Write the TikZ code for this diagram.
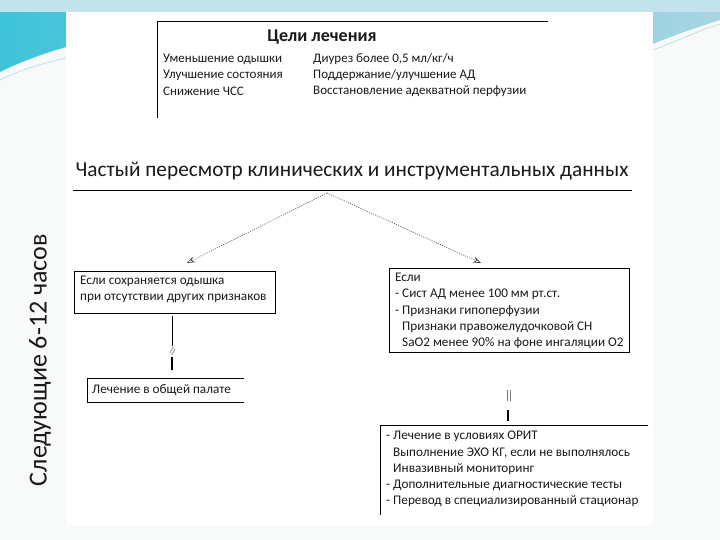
\documentclass[tikz,border=0pt]{standalone}
\usepackage{fontspec}
\setmainfont{Carlito}
\usetikzlibrary{arrows.meta}
\definecolor{slidebg}{HTML}{F8F9F9}
\definecolor{bandblue}{HTML}{A8D5E4}
\definecolor{cyanA}{HTML}{3FC3D9}
\definecolor{cyanB}{HTML}{5CB8D8}
\definecolor{txt}{HTML}{1A1A1A}
\tikzset{
  small/.style={font=\fontsize{13}{15}\selectfont, text=txt, inner sep=0pt, anchor=west},
  boxtext/.style={font=\fontsize{13.2}{16.3}\selectfont, text=txt, align=left, inner sep=0pt, anchor=north west},
  frame/.style={draw=black, line width=0.8pt},
  dotarrow/.style={draw=black!75, line width=0.6pt, dash pattern=on 1pt off 1.3pt, -{Stealth[open, length=8pt, width=6pt, line width=0.6pt]}},
  thin/.style={draw=black, line width=0.8pt},
  thick/.style={draw=black, line width=2pt},
  breakmark/.style={draw=black!55, line width=0.6pt}
}
\begin{document}
\begin{tikzpicture}[x=1pt,y=-1pt]
\useasboundingbox (0,0) rectangle (720,540);
\fill[slidebg] (0,0) rectangle (720,540);
% top decorative band
\shade[left color=cyanA, right color=bandblue] (0,0) -- (720,0) -- (720,20) .. controls (695,28) and (672,36) .. (653,44) -- (653,12) -- (66,12) -- (66,47) .. controls (42,54) and (20,62) .. (0,72) -- cycle;
\fill[bandblue!70] (0,0) rectangle (720,12);
\draw[white!60!cyanB, line width=0.8pt] (66,58) .. controls (40,64) and (20,70) .. (0,80);
\draw[white!50!cyanB, line width=0.6pt] (653,50) .. controls (680,40) and (700,30) .. (720,24);
% white panel
\fill[white] (66,12) rectangle (653,525);

% goals block
\coordinate (gTL) at (157,21);
\coordinate (gTR) at (548,21);
\coordinate (gBL) at (157,118);
\draw[frame] (gBL) -- (gTL) -- (gTR);
\node[font=\bfseries\fontsize{18}{20}\selectfont, text=txt, inner sep=0pt] (goals) at (322,37) {Цели лечения};
\node[small] (g1) at (163,59) {Уменьшение одышки};
\node[small] (g2) at (163,75) {Улучшение состояния};
\node[small] (g3) at (163,91) {Снижение ЧСС};
\node[small] (g4) at (313,59) {Диурез более 0,5 мл/кг/ч};
\node[small] (g5) at (313,75) {Поддержание/улучшение АД};
\node[small] (g6) at (313,91) {Восстановление адекватной перфузии};

% heading
\node[font=\fontsize{21.3}{24}\selectfont, text=txt, inner sep=0pt] (head) at (352,171) {Частый пересмотр клинических и инструментальных данных};
\coordinate (ulL) at (73,190);
\coordinate (ulR) at (632,190);
\draw[line width=0.8pt] (ulL) -- (ulR);
\coordinate (apex) at (327,193);
\coordinate (tipL) at (187,263);
\coordinate (tipR) at (481,263);
\draw[dotarrow] (apex) -- (tipL);
\draw[dotarrow] (apex) -- (tipR);

% left branch
\node[draw=black, line width=0.8pt, minimum width=201pt, minimum height=42pt, anchor=north west, inner sep=0pt] (lb1) at (74,271) {};
\node[boxtext] (lb1t) at (80,276) {Если сохраняется одышка\\при отсутствии других признаков};
\coordinate (lc1) at (172,316);
\coordinate (lc2) at (172,346);
\coordinate (lc3) at (172,357);
\coordinate (lc4) at (172,370);
\draw[thin] (lc1) -- (lc2);
\draw[breakmark] (170,353) -- (173,347) (172,355) -- (175,349);
\draw[thick] (lc3) -- (lc4);
\node[boxtext, anchor=west] (lb2t) at (92,390) {Лечение в общей палате};
\coordinate (lb2TR) at (244,378);
\coordinate (lb2TL) at (87,378);
\coordinate (lb2BL) at (87,402);
\coordinate (lb2BR) at (244,402);
\draw[frame] (lb2TR) -- (lb2TL) -- (lb2BL) -- (lb2BR);

% right branch
\node[draw=black, line width=0.8pt, minimum width=240pt, minimum height=84pt, anchor=north west, inner sep=0pt] (rb1) at (389,268) {};
\node[boxtext] (rb1t) at (395,273) {Если\\- Сист АД менее 100 мм рт.ст.\\- Признаки гипоперфузии\\\hphantom{- }Признаки правожелудочковой СН\\\hphantom{- }SaO2 менее 90\% на фоне ингаляции O2};
\coordinate (rc1) at (508,410);
\coordinate (rc2) at (508,421);
\draw[breakmark] (507,401) -- (507,390) (510,401) -- (510,390);
\draw[thick] (rc1) -- (rc2);
\coordinate (rb2TR) at (648,425);
\coordinate (rb2TL) at (380,425);
\coordinate (rb2BL) at (380,515);
\draw[frame] (rb2TR) -- (rb2TL) -- (rb2BL);
\node[boxtext] (rb2t) at (386,431) {- Лечение в условиях ОРИТ\\\hphantom{- }Выполнение ЭХО КГ, если не выполнялось\\\hphantom{- }Инвазивный мониторинг\\- Дополнительные диагностические тесты\\- Перевод в специализированный стационар};

% side label
\node[rotate=90, font=\fontsize{26}{28}\selectfont, text=txt, inner sep=0pt] (side) at (40,360) {Следующие 6-12 часов};
\end{tikzpicture}
\end{document}
